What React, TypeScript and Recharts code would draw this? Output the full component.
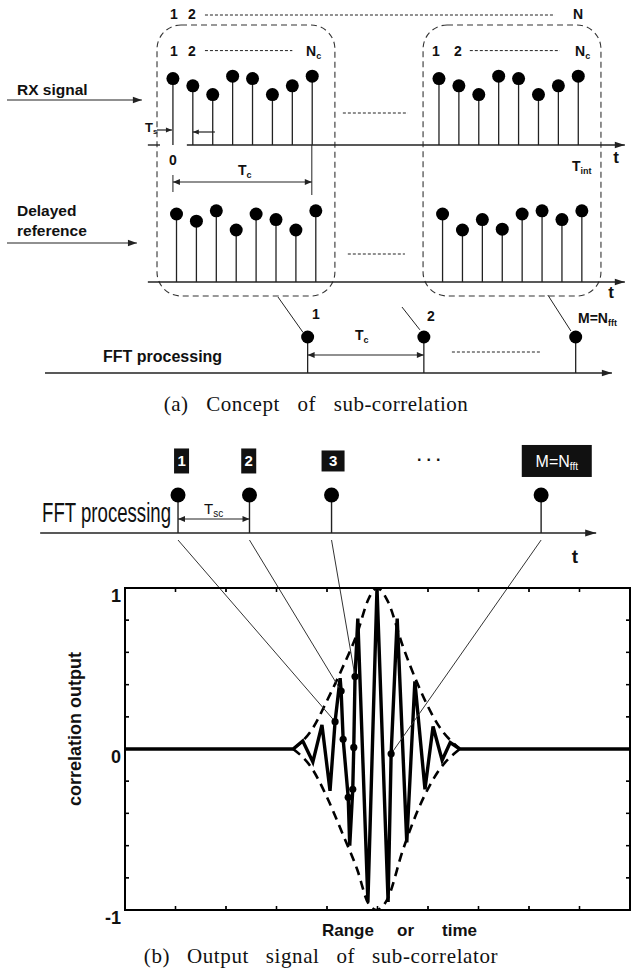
import React from 'react';
import {
  ComposedChart,
  Scatter,
  Line,
  XAxis,
  YAxis,
  ErrorBar,
  ReferenceLine,
  ReferenceArea,
  ReferenceDot,
  Customized,
} from 'recharts';

const SANS = "'Liberation Sans', Arial, Helvetica, sans-serif";
const SERIF = "'Liberation Serif', 'Times New Roman', Times, serif";
const INK = '#111';

/* ---------- (a) concept of sub-correlation ---------- */
// received-signal sample amplitudes, one array per sub-correlation block
const rxBlock1 = [0.83, 0.74, 0.63, 0.86, 0.83, 0.63, 0.74, 0.86];
const rxBlock2 = [0.83, 0.74, 0.63, 0.86, 0.83, 0.63, 0.74, 0.86];
// delayed-reference sample amplitudes
const refBlock1 = [0.85, 0.76, 0.89, 0.65, 0.85, 0.78, 0.65, 0.89];
const refBlock2 = [0.85, 0.65, 0.78, 0.66, 0.85, 0.89, 0.78, 0.89];
// block start times and reference delay, in sample periods Ts
const blockStarts = [0, 13.37];
const refDelay = 0.18;
// FFT output instants (in Ts) and their stem height
const fftInstantsA = [6.77, 12.61, 20.24];
const fftLevelA = 0.45;

/* ---------- (b) output of the sub-correlator ---------- */
const fftInstantsB = [1.05, 2.465, 4.09, 8.24];
const fftTagX = [1.12, 2.45, 4.12, 8.55];
const fftTags = ['1', '2', '3', 'M'];

const corrX = [0, 3.33, 3.52, 3.72, 3.9, 4.06, 4.16, 4.26, 4.28, 4.32, 4.42, 4.45, 4.51, 4.53, 4.555, 4.61, 4.81, 4.99, 5.21, 5.27, 5.39, 5.58, 5.74, 5.94, 6.1, 6.28, 6.44, 6.63, 10];
const corrY = [0, 0, 0.05, -0.08, 0.15, -0.26, 0.17, 0.44, 0.36, 0.06, -0.3, -0.6, -0.25, 0.01, 0.45, 0.81, -0.95, 1.0, -0.95, -0.03, 0.81, -0.58, 0.42, -0.25, 0.14, -0.07, 0.04, 0, 0];

const envX = [3.33, 3.7, 4.0, 4.3, 4.6, 4.82, 4.99, 5.2, 5.5, 5.8, 6.2, 6.63];
const envUpper = [0, 0.12, 0.3, 0.5, 0.72, 0.93, 1.0, 0.92, 0.64, 0.4, 0.15, 0];
const envLower = [0, -0.12, -0.3, -0.52, -0.75, -0.96, -1.0, -0.93, -0.63, -0.38, -0.14, 0];

// sub-correlation outputs marked on the curve
const sampleX = [4.16, 4.28, 4.32, 4.42, 4.51, 4.53, 4.555, 5.27];
const sampleY = [0.17, 0.36, 0.06, -0.3, -0.25, 0.01, 0.45, -0.03];
const linkedSamples = [0, 1, 6, 7];

const xTicks = [0, 1, 2, 3, 4, 5, 6, 7, 8, 9, 10];
const yTicks = [-1, -0.8, -0.6, -0.4, -0.2, 0, 0.2, 0.4, 0.6, 0.8, 1];

/* ---------- drawing helpers ---------- */
type Heads = 'none' | 'start' | 'end' | 'both';

const arrowShape = (heads: Heads, len: number, half: number) => (p: any) => {
  const x1 = Number(p.x1);
  const y1 = Number(p.y1);
  const x2 = Number(p.x2);
  const y2 = Number(p.y2);
  const ang = Math.atan2(y2 - y1, x2 - x1);
  const head = (x: number, y: number, a: number) => {
    const bx = x - len * Math.cos(a);
    const by = y - len * Math.sin(a);
    const nx = -Math.sin(a) * half;
    const ny = Math.cos(a) * half;
    return <polygon points={`${x},${y} ${bx + nx},${by + ny} ${bx - nx},${by - ny}`} fill={p.stroke} />;
  };
  return (
    <g>
      <line x1={x1} y1={y1} x2={x2} y2={y2} stroke={p.stroke} strokeWidth={p.strokeWidth} strokeDasharray={p.strokeDasharray} />
      {(heads === 'end' || heads === 'both') && head(x2, y2, ang)}
      {(heads === 'start' || heads === 'both') && head(x1, y1, ang + Math.PI)}
    </g>
  );
};

type SegOpt = { heads?: Heads; dash?: string; w?: number; len?: number; half?: number; color?: string; axis?: string };

const seg = (key: string, a: [number, number], b: [number, number], o: SegOpt = {}) => (
  <ReferenceLine
    key={key}
    {...(o.axis ? { yAxisId: o.axis } : {})}
    segment={[
      { x: a[0], y: a[1] },
      { x: b[0], y: b[1] },
    ]}
    stroke={o.color ?? '#222'}
    strokeWidth={o.w ?? 1.2}
    strokeDasharray={o.dash}
    ifOverflow="visible"
    shape={arrowShape(o.heads ?? 'none', o.len ?? 8, o.half ?? 3.2)}
  />
);

const stemHead = (r: number) => (p: any) => <circle cx={p.cx} cy={p.cy} r={r} fill="#000" />;

const DOTTED = '3 2';

/* ---------- labels ---------- */
const sub = (s: string, size = 9, dy = 3) => (
  <tspan fontSize={size} dy={dy}>
    {s}
  </tspan>
);

const TopLabels = () => (
  <g fontFamily={SANS} fontWeight="bold" fill={INK}>
    <text x={174} y={19} fontSize={14} textAnchor="middle">1</text>
    <text x={192} y={19} fontSize={14} textAnchor="middle">2</text>
    <text x={578} y={19} fontSize={14} textAnchor="middle">N</text>

    <text x={174} y={56} fontSize={14} textAnchor="middle">1</text>
    <text x={192} y={56} fontSize={14} textAnchor="middle">2</text>
    <text x={306} y={56} fontSize={14}>N{sub('c')}</text>
    <text x={436} y={56} fontSize={14} textAnchor="middle">1</text>
    <text x={458} y={56} fontSize={14} textAnchor="middle">2</text>
    <text x={575} y={56} fontSize={14}>N{sub('c')}</text>

    <text x={17} y={95} fontSize={15.5}>RX signal</text>
    <text x={145} y={132} fontSize={13}>T{sub('s', 8, 2)}</text>
    <text x={173} y={165} fontSize={14} textAnchor="middle">0</text>
    <text x={238} y={175} fontSize={14}>T{sub('c')}</text>
    <text x={572} y={171} fontSize={14}>T{sub('int')}</text>
    <text x={616} y={163} fontSize={17} textAnchor="middle">t</text>

    <text x={17} y={216} fontSize={15.5}>Delayed</text>
    <text x={17} y={236} fontSize={15.5}>reference</text>
    <text x={611} y={298} fontSize={17} textAnchor="middle">t</text>

    <text x={103} y={362} fontSize={16}>FFT processing</text>
    <text x={316} y={319} fontSize={14} textAnchor="middle">1</text>
    <text x={431} y={321} fontSize={14} textAnchor="middle">2</text>
    <text x={578} y={323} fontSize={14}>M=N{sub('fft')}</text>
    <text x={355} y={340} fontSize={14}>T{sub('c')}</text>

    <text x={316} y={411} fontFamily={SERIF} fontWeight="normal" fontSize={21} textAnchor="middle" wordSpacing={12} letterSpacing={0.5}>
      (a) Concept of sub-correlation
    </text>
  </g>
);

/* ---------- (b) plot layout ---------- */
const B_W = 632;
const B_H = 973;
const B_MARGIN = { top: 588, right: 2, bottom: 62, left: 65 };
const Y_AXIS_W = 60;
const X_AXIS_H = 1;
const PLOT = {
  left: B_MARGIN.left + Y_AXIS_W,
  top: B_MARGIN.top,
  width: B_W - B_MARGIN.left - Y_AXIS_W - B_MARGIN.right,
  height: B_H - B_MARGIN.top - B_MARGIN.bottom - X_AXIS_H,
};
const TICK = 4;

// plot frame with inward ticks on all four sides, placed from the same layout and domains
const FrameBox = ({ x, y, w, h }: { x: number; y: number; w: number; h: number }) => {
  const x0 = xTicks[0];
  const xSpan = xTicks[xTicks.length - 1] - x0;
  const y0 = yTicks[0];
  const ySpan = yTicks[yTicks.length - 1] - y0;
  const xs = xTicks.map((t) => x + (w * (t - x0)) / xSpan);
  const ys = yTicks.map((v) => y + h - (h * (v - y0)) / ySpan);
  return (
    <g fill="none">
      <rect x={x} y={y} width={w} height={h} stroke="#000" strokeWidth={2} />
      {xs.map((px, i) => (
        <g key={`xt${i}`} stroke="#000" strokeWidth={1.3}>
          <line x1={px} y1={y + h} x2={px} y2={y + h - TICK} />
          <line x1={px} y1={y} x2={px} y2={y + TICK} />
        </g>
      ))}
      {ys.map((py, i) => (
        <g key={`yt${i}`} stroke="#000" strokeWidth={1.3}>
          <line x1={x} y1={py} x2={x + TICK} y2={py} />
          <line x1={x + w} y1={py} x2={x + w - TICK} y2={py} />
        </g>
      ))}
    </g>
  );
};

const frameAreaShape = (p: any) => <FrameBox x={Number(p.x)} y={Number(p.y)} w={Number(p.width)} h={Number(p.height)} />;

const BottomLabels = () => (
  <g fill={INK} fontFamily={SANS}>
    {/* condensed lettering */}
    <text transform="translate(42 522) scale(0.69 1)" x={0} y={0} fontSize={27}>
      FFT processing
    </text>
    <text x={204} y={514} fontSize={15}>T{sub('sc', 10, 3)}</text>
    <text x={575} y={563} fontSize={19} fontWeight="bold" textAnchor="middle">t</text>
    <text x={417} y={461} fontSize={16} fontWeight="bold" letterSpacing={5}>...</text>
    <text x={81} y={729} transform="rotate(-90 81 729)" textAnchor="middle" fontSize={18} fontWeight="bold">
      correlation output
    </text>
    <text x={322} y={936} fontSize={17} fontWeight="bold">Range</text>
    <text x={397} y={936} fontSize={17} fontWeight="bold">or</text>
    <text x={442} y={936} fontSize={17} fontWeight="bold">time</text>
    <text x={321} y={963} fontFamily={SERIF} fontSize={21} textAnchor="middle" wordSpacing={11} letterSpacing={0.6}>
      (b) Output signal of sub-correlator
    </text>
  </g>
);

const emptyTick = () => <g />;
const leftTickLabel = (p: any) => {
  const v = Number(p.payload.value);
  if (!Number.isInteger(v)) return <g />;
  return (
    <text x={p.x - 4} y={p.y + 14} textAnchor="end" fontSize={18} fontWeight="bold" fontFamily={SANS} fill={INK}>
      {v}
    </text>
  );
};

const AX = { stroke: '#000', strokeWidth: 1.6 };

/* ---------- (a) diagram ---------- */
function ConceptChart() {
  const rxStems = [rxBlock1, rxBlock2].flatMap((amps, b) =>
    amps.map((amp, i) => ({ t: blockStarts[b] + i, amp, stem: [amp, 0] }))
  );
  const refStems = [refBlock1, refBlock2].flatMap((amps, b) =>
    amps.map((amp, i) => ({ t: blockStarts[b] + refDelay + i, amp, stem: [amp, 0] }))
  );
  const fftStems = fftInstantsA.map((t) => ({ t, amp: fftLevelA, stem: [fftLevelA, 0] }));

  return (
    <ComposedChart width={632} height={430} margin={{ top: 0, right: 0, bottom: 0, left: 0 }}>
      <XAxis type="number" dataKey="t" domain={[-8.69, 23.07]} allowDataOverflow hide />
      <YAxis yAxisId="rx" type="number" dataKey="amp" domain={[-3.5625, 1.8125]} allowDataOverflow hide />
      <YAxis yAxisId="ref" type="number" dataKey="amp" domain={[-1.85, 3.525]} allowDataOverflow hide />
      <YAxis yAxisId="fft" type="number" dataKey="amp" domain={[-0.7125, 4.6625]} allowDataOverflow hide />

      {blockStarts.map((s, i) => (
        <ReferenceArea
          key={`blk${i}`}
          yAxisId="rx"
          x1={s - 0.8}
          x2={s + 8.14}
          y1={-1.8875}
          y2={1.5}
          ifOverflow="visible"
          shape={(p: any) => (
            <rect x={p.x} y={p.y} width={p.width} height={p.height} rx={24} ry={24} fill="none" stroke="#333" strokeWidth={1.1} strokeDasharray="6 4" />
          )}
        />
      ))}

      {/* received signal row */}
      {seg('topDots', [1.61, 1.625], [19.2, 1.625], { axis: 'rx', dash: DOTTED, w: 1 })}
      {seg('b1Dots', [1.61, 1.18], [6.0, 1.18], { axis: 'rx', dash: DOTTED, w: 1 })}
      {seg('b2Dots', [14.92, 1.18], [19.45, 1.18], { axis: 'rx', dash: DOTTED, w: 1 })}
      {seg('rxIn', [-8.34, 0.5625], [-1.56, 0.5625], { axis: 'rx', heads: 'end', len: 9 })}
      {seg('rxAxis', [0.7, 0], [22.71, 0], { axis: 'rx', heads: 'end', len: 10, w: 1.4 })}
      {seg('rxStub', [-1.26, 0], [-0.65, 0], { axis: 'rx', w: 1.4 })}
      {seg('tsR', [-0.8, 0.1875], [-0.05, 0.1875], { axis: 'rx', heads: 'end', len: 6, half: 2.6 })}
      {seg('tsL', [2.11, 0.1625], [1.0, 0.1625], { axis: 'rx', heads: 'end', len: 6, half: 2.6 })}
      {seg('tcA', [0, -0.4625], [6.98, -0.4625], { axis: 'rx', heads: 'both', len: 7, half: 3 })}
      {seg('tcL', [0, -0.375], [0, -0.5875], { axis: 'rx', w: 1 })}
      {seg('tcR', [6.98, 0], [6.98, -0.625], { axis: 'rx', w: 1 })}
      {seg('gapRx', [8.54, 0.4], [11.81, 0.4], { axis: 'rx', dash: DOTTED, w: 1 })}

      {/* delayed reference row */}
      {seg('refIn', [-8.34, 0.4875], [-1.81, 0.4875], { axis: 'ref', heads: 'end', len: 9 })}
      {seg('refAxis', [-1.26, 0], [22.71, 0], { axis: 'ref', heads: 'end', len: 10, w: 1.4 })}
      {seg('gapRef', [8.79, 0.35], [11.66, 0.35], { axis: 'ref', dash: DOTTED, w: 1 })}

      {/* FFT row */}
      {seg('fftAxis', [-6.43, 0], [22.06, 0], { axis: 'fft', heads: 'end', len: 10, w: 1.4 })}
      {seg('fftTc', [6.77, 0.225], [12.61, 0.225], { axis: 'fft', heads: 'both', len: 7, half: 3 })}
      {seg('fftDots', [14.02, 0.2625], [18.44, 0.2625], { axis: 'fft', dash: DOTTED, w: 1 })}
      {seg('lnk1', [5.28, 0.95], [6.53, 0.51], { axis: 'fft', w: 1 })}
      {seg('lnk2', [11.51, 0.825], [12.41, 0.54], { axis: 'fft', w: 1 })}
      {seg('lnk3', [18.84, 0.975], [20.0, 0.525], { axis: 'fft', w: 1 })}

      <Scatter yAxisId="rx" data={rxStems} shape={stemHead(6.5)} isAnimationActive={false}>
        <ErrorBar dataKey="stem" direction="y" width={0} stroke="#222" strokeWidth={1.3} />
      </Scatter>
      <Scatter yAxisId="ref" data={refStems} shape={stemHead(6.5)} isAnimationActive={false}>
        <ErrorBar dataKey="stem" direction="y" width={0} stroke="#222" strokeWidth={1.3} />
      </Scatter>
      <Scatter yAxisId="fft" data={fftStems} shape={stemHead(6.5)} isAnimationActive={false}>
        <ErrorBar dataKey="stem" direction="y" width={0} stroke="#222" strokeWidth={1.3} />
      </Scatter>

      <Customized component={<TopLabels />} />
    </ComposedChart>
  );
}

/* ---------- (b) correlation output ---------- */
const tagSize = [
  [15, 25],
  [15, 25],
  [23, 21],
  [70, 32],
];

const Tag = ({ cx, cy, i }: { cx: number; cy: number; i: number }) => {
  const [w, h] = tagSize[i];
  return (
    <g>
      <rect x={cx - w / 2} y={cy - h / 2} width={w} height={h} fill="#111" />
      {fftTags[i] === 'M' ? (
        <text x={cx} y={cy + 6} textAnchor="middle" fill="#fff" fontFamily={SANS} fontSize={16}>
          M=N
          <tspan fontSize={10} dy={3}>
            fft
          </tspan>
        </text>
      ) : (
        <text x={cx} y={cy + 5.5} textAnchor="middle" fill="#fff" fontFamily={SANS} fontWeight="bold" fontSize={15}>
          {fftTags[i]}
        </text>
      )}
    </g>
  );
};

function OutputChart() {
  const corrData = corrX.map((x, i) => ({ x, y: corrY[i] }));
  const upper = envX.map((x, i) => ({ x, y: envUpper[i] }));
  const lower = envX.map((x, i) => ({ x, y: envLower[i] }));
  const samples = sampleX.map((x, i) => ({ x, y: sampleY[i] }));
  // vertical levels of the FFT timeline drawn above the plot frame
  const base = 1.3416;
  const headY = 1.578;
  const tagY = 1.789;
  const linkY = 1.298;
  const tscY = 1.4286;

  return (
    <ComposedChart width={B_W} height={B_H} margin={B_MARGIN}>
      <XAxis type="number" dataKey="x" domain={[0, 10]} ticks={xTicks} interval={0} allowDataOverflow height={X_AXIS_H} tickSize={0} tickMargin={0} tickLine={false} axisLine={AX} tick={emptyTick} />
      <YAxis type="number" dataKey="y" domain={[-1, 1]} ticks={yTicks} interval={0} allowDataOverflow width={Y_AXIS_W} tickSize={0} tickMargin={0} tickLine={false} axisLine={AX} tick={leftTickLabel} />

      <ReferenceArea x1={0} x2={10} y1={-1} y2={1} ifOverflow="visible" shape={frameAreaShape} />

      <Line data={upper} dataKey="y" type="monotone" stroke="#000" strokeWidth={2.6} strokeDasharray="9 6" dot={false} activeDot={false} isAnimationActive={false} />
      <Line data={lower} dataKey="y" type="monotone" stroke="#000" strokeWidth={2.6} strokeDasharray="9 6" dot={false} activeDot={false} isAnimationActive={false} />
      <Line data={corrData} dataKey="y" type="linear" stroke="#000" strokeWidth={3.4} dot={false} activeDot={false} isAnimationActive={false} />
      <Scatter data={samples} shape={stemHead(3.6)} isAnimationActive={false} />

      {/* FFT timeline */}
      {seg('axisB', [-1.68, base], [9.33, base], { heads: 'end', len: 11, half: 3.6, w: 1.4 })}
      {seg('tsc', [fftInstantsB[0], tscY], [fftInstantsB[1], tscY], { heads: 'both', len: 7, half: 3 })}
      {fftInstantsB.map((x, i) => seg(`stemB${i}`, [x, base], [x, headY], { w: 1.4 }))}
      {fftInstantsB.map((x, i) =>
        seg(`link${i}`, [x, linkY], [sampleX[linkedSamples[i]], sampleY[linkedSamples[i]]], { w: 1, color: '#333' })
      )}
      {fftInstantsB.map((x, i) => (
        <ReferenceDot key={`headB${i}`} x={x} y={headY} r={7.5} fill="#000" stroke="none" ifOverflow="visible" />
      ))}
      {fftTagX.map((x, i) => (
        <ReferenceDot key={`tag${i}`} x={x} y={tagY} r={1} ifOverflow="visible" shape={(p: any) => <Tag cx={p.cx} cy={p.cy} i={i} />} />
      ))}

      <Customized component={<BottomLabels />} />
    </ComposedChart>
  );
}

export default function App() {
  return (
    <div style={{ position: 'absolute', left: 0, top: 0, width: 632, height: 973, background: '#fff' }}>
      <div style={{ position: 'absolute', left: 0, top: 0 }}>
        <OutputChart />
      </div>
      <div style={{ position: 'absolute', left: 0, top: 0 }}>
        <ConceptChart />
      </div>
      {/* plot frame layer kept on top of both charts */}
      <svg style={{ position: 'absolute', left: 0, top: 0, pointerEvents: 'none' }} width={B_W} height={B_H}>
        <FrameBox x={PLOT.left} y={PLOT.top} w={PLOT.width} h={PLOT.height} />
      </svg>
    </div>
  );
}
